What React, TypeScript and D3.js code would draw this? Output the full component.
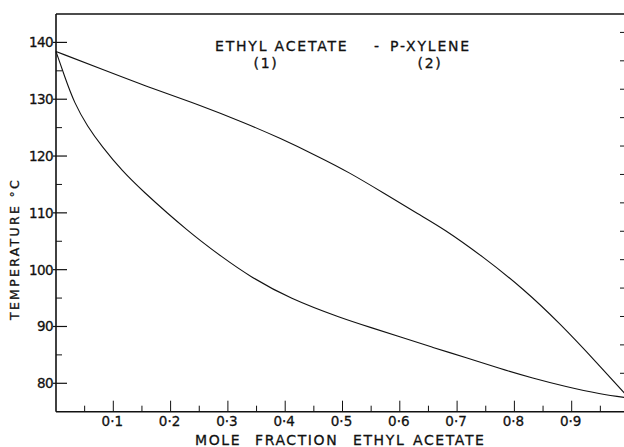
import React from 'react';
import * as d3 from 'd3';

// vapour (dew) curve
const dewX = [0, 0.085, 0.17, 0.25, 0.33, 0.39, 0.46, 0.51, 0.57, 0.635, 0.675, 0.745, 0.815, 0.88, 0.945, 1.0];
const dewT = [138.4, 135.1, 131.8, 129.0, 125.8, 123.2, 119.8, 117.2, 113.6, 109.6, 107.3, 102.3, 96.7, 90.5, 83.5, 77.4];

// liquid (bubble) curve
const bubbleX = [0, 0.015, 0.032, 0.055, 0.08, 0.115, 0.155, 0.196, 0.23, 0.251, 0.286, 0.338, 0.408, 0.5, 0.55, 0.6, 0.658, 0.716, 0.774, 0.832, 0.89, 0.949, 1.0];
const bubbleT = [138.4, 134.0, 129.3, 125.2, 121.7, 117.4, 113.5, 109.8, 106.9, 105.2, 102.5, 98.8, 94.9, 91.4, 89.8, 88.2, 86.3, 84.5, 82.6, 80.9, 79.4, 78.1, 77.4];

const xTicks = [0.1, 0.2, 0.3, 0.4, 0.5, 0.6, 0.7, 0.8, 0.9];
const xTickLabels = ['0·1', '0·2', '0·3', '0·4', '0·5', '0·6', '0·7', '0·8', '0·9'];
const xMinor = [0.05, 0.15, 0.25, 0.35, 0.45, 0.55, 0.65, 0.75, 0.85, 0.95];
const yTicks = [80, 90, 100, 110, 120, 130, 140];
const yMinor = [85, 95, 105, 115, 125, 135];
const rightTicks = [80, 85, 90, 95, 100, 105, 110, 115, 120, 125, 130, 135, 140];

const W = 624;
const H = 447;
const FONT = '"DejaVu Sans", sans-serif';
const INK = '#111';

export default function App() {
  const x = d3.scaleLinear().domain([0, 1]).range([56, 629]);
  const y = d3.scaleLinear().domain([75, 145]).range([411.7, 14]);

  const line = d3
    .line<[number, number]>()
    .x(d => x(d[0]))
    .y(d => y(d[1]))
    .curve(d3.curveBasis);

  const dew = line(dewX.map((v, i) => [v, dewT[i]] as [number, number])) || '';
  const bubble = line(bubbleX.map((v, i) => [v, bubbleT[i]] as [number, number])) || '';

  const x0 = x(0);
  const yb = y(75);
  const yt = y(145);

  return (
    <svg width={W} height={H} style={{ position: 'absolute', left: 0, top: 0, background: '#fff' }}>
      {/* frame */}
      <line x1={x0} x2={W} y1={yt} y2={yt} stroke={INK} strokeWidth={1.4} />
      <line x1={x0} x2={x0} y1={yt} y2={yb} stroke={INK} strokeWidth={1.6} />
      <line x1={x0} x2={W} y1={yb} y2={yb} stroke={INK} strokeWidth={1.6} />

      {/* left ticks */}
      {yTicks.map((t, i) => (
        <g key={'yt' + i}>
          <line x1={x0 - 3} x2={x0 + 11} y1={y(t)} y2={y(t)} stroke={INK} strokeWidth={1.2} />
          <text x={x0 - 3} y={y(t)} dy="0.36em" textAnchor="end" fontFamily={FONT} fontSize={13.5} fill={INK} stroke={INK} strokeWidth={0.3} letterSpacing={-0.6}>
            {t}
          </text>
        </g>
      ))}
      {yMinor.map((t, i) => (
        <line key={'ym' + i} x1={x0} x2={x0 + 6} y1={y(t)} y2={y(t)} stroke={INK} strokeWidth={1} />
      ))}

      {/* right ticks */}
      <g transform="translate(0,-10)">
        {rightTicks.map((t, i) => (
          <line key={'rt' + i} x1={W - 4} x2={W} y1={y(t)} y2={y(t)} stroke={INK} strokeWidth={1} />
        ))}
      </g>

      {/* bottom ticks */}
      {xTicks.map((t, i) => (
        <g key={'xt' + i}>
          <line x1={x(t)} x2={x(t)} y1={yb} y2={yb - 11} stroke={INK} strokeWidth={1} />
          <text x={x(t) - 1} y={425.5} textAnchor="middle" fontFamily={FONT} fontSize={13.5} fill={INK} stroke={INK} strokeWidth={0.3}>
            {xTickLabels[i]}
          </text>
        </g>
      ))}
      {xMinor.map((t, i) => (
        <line key={'xm' + i} x1={x(t)} x2={x(t)} y1={yb} y2={yb - 6} stroke={INK} strokeWidth={1} />
      ))}

      {/* curves */}
      <path d={dew} fill="none" stroke={INK} strokeWidth={1.1} />
      <path d={bubble} fill="none" stroke={INK} strokeWidth={1.1} />

      {/* title */}
      <g fontFamily={FONT} fontSize={14} fill={INK} stroke={INK} strokeWidth={0.3} letterSpacing={1.8}>
        <text x={215} y={50.5}>ETHYL ACETATE</text>
        <text x={374} y={50.5}>-</text>
        <text x={390} y={50.5}>P-XYLENE</text>
        <text x={266} y={68} textAnchor="middle">(1)</text>
        <text x={430} y={68} textAnchor="middle">(2)</text>
      </g>

      {/* axis labels */}
      <g fontFamily={FONT} fontSize={14} fill={INK} stroke={INK} strokeWidth={0.3} letterSpacing={1.6}>
        <text x={195} y={444.5}>MOLE</text>
        <text x={255} y={444.5}>FRACTION</text>
        <text x={353} y={444.5}>ETHYL</text>
        <text x={413} y={444.5}>ACETATE</text>
      </g>
      <text
        transform="translate(18.5,249) rotate(-90)"
        textAnchor="middle"
        fontFamily={FONT}
        fontSize={12.5}
        fill={INK}
        stroke={INK}
        strokeWidth={0.3}
        letterSpacing={2.3}
      >
        TEMPERATURE °C
      </text>
    </svg>
  );
}
